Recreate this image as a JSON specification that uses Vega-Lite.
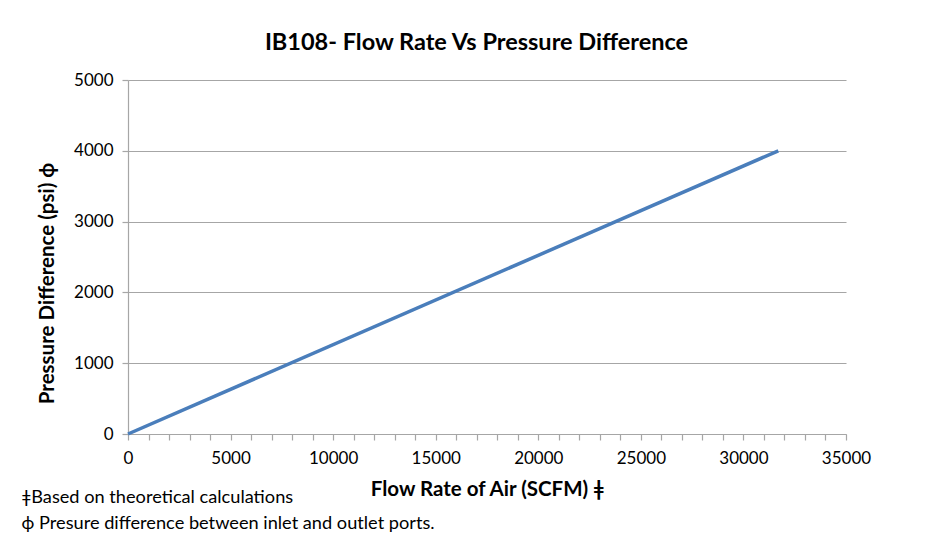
{
  "$schema": "https://vega.github.io/schema/vega-lite/v6.json",
  "autosize": "none",
  "width": 718,
  "height": 354,
  "padding": {"left": 128, "top": 80, "right": 80, "bottom": 112},
  "background": "white",
  "config": {
    "font": "Lato",
    "view": {"stroke": null}
  },
  "title": {
    "text": ["ǂBased on theoretical calculations", "ф Presure difference between inlet and outlet ports."],
    "orient": "bottom",
    "anchor": "start",
    "frame": "bounds",
    "font": "Lato",
    "fontSize": 18.2,
    "fontWeight": "normal",
    "color": "#000000",
    "lineHeight": 26,
    "offset": -11,
    "dx": -16
  },
  "data": {
    "values": [
      {"flow": 0, "pressure": 0},
      {"flow": 31700, "pressure": 4000}
    ]
  },
  "encoding": {
    "x": {
      "field": "flow",
      "type": "quantitative",
      "scale": {"domain": [0, 35000], "nice": false}
    },
    "y": {
      "field": "pressure",
      "type": "quantitative",
      "scale": {"domain": [0, 5000], "nice": false},
      "axis": {
        "title": "Pressure Difference (psi) ф",
        "titleFont": "Lato",
        "titleFontSize": 20.5,
        "titleFontWeight": "bold",
        "titleColor": "#000000",
        "titlePadding": 16,
        "titleY": 203,
        "values": [0, 1000, 2000, 3000, 4000, 5000],
        "format": "d",
        "labelFont": "Lato",
        "labelFontSize": 17,
        "labelColor": "#000000",
        "labelPadding": 9,
        "grid": true,
        "gridColor": "#a6a6a6",
        "gridWidth": 1.2,
        "domainColor": "#a6a6a6",
        "domainWidth": 1.2,
        "tickColor": "#a6a6a6",
        "tickSize": 6,
        "tickWidth": 1.2
      }
    }
  },
  "layer": [
    {
      "mark": {"type": "line", "color": "#4a7ebb", "strokeWidth": 3.5},
      "encoding": {
        "x": {
          "field": "flow",
          "type": "quantitative",
          "axis": {
            "orient": "bottom",
            "title": "Flow Rate  of Air (SCFM) ǂ",
            "titleFont": "Lato",
            "titleFontSize": 20.5,
            "titleFontWeight": "bold",
            "titleColor": "#000000",
            "titlePadding": 13,
            "values": [0,1000,2000,3000,4000,5000,6000,7000,8000,9000,10000,11000,12000,13000,14000,15000,16000,17000,18000,19000,20000,21000,22000,23000,24000,25000,26000,27000,28000,29000,30000,31000,32000,33000,34000,35000],
            "labelExpr": "datum.value % 5000 === 0 ? format(datum.value, 'd') : ''",
            "labelFont": "Lato",
            "labelFontSize": 17,
            "labelColor": "#000000",
            "labelPadding": 10,
            "labelFlush": false,
            "labelOverlap": false,
            "grid": false,
            "domainColor": "#a6a6a6",
            "domainWidth": 1.2,
            "tickColor": "#a6a6a6",
            "tickSize": 6,
            "tickWidth": 1.2
          }
        }
      }
    },
    {
      "mark": {"type": "point", "opacity": 0},
      "encoding": {
        "x": {
          "field": "flow",
          "type": "quantitative",
          "axis": {
            "orient": "top",
            "title": "IB108- Flow Rate Vs Pressure Difference",
            "titleFont": "Lato",
            "titleFontSize": 23.5,
            "titleFontWeight": "bold",
            "titleColor": "#000000",
            "titlePadding": 26,
            "titleX": 348,
            "labels": false,
            "ticks": false,
            "domain": false,
            "grid": false
          }
        }
      }
    }
  ],
  "resolve": {"axis": {"x": "independent"}}
}
